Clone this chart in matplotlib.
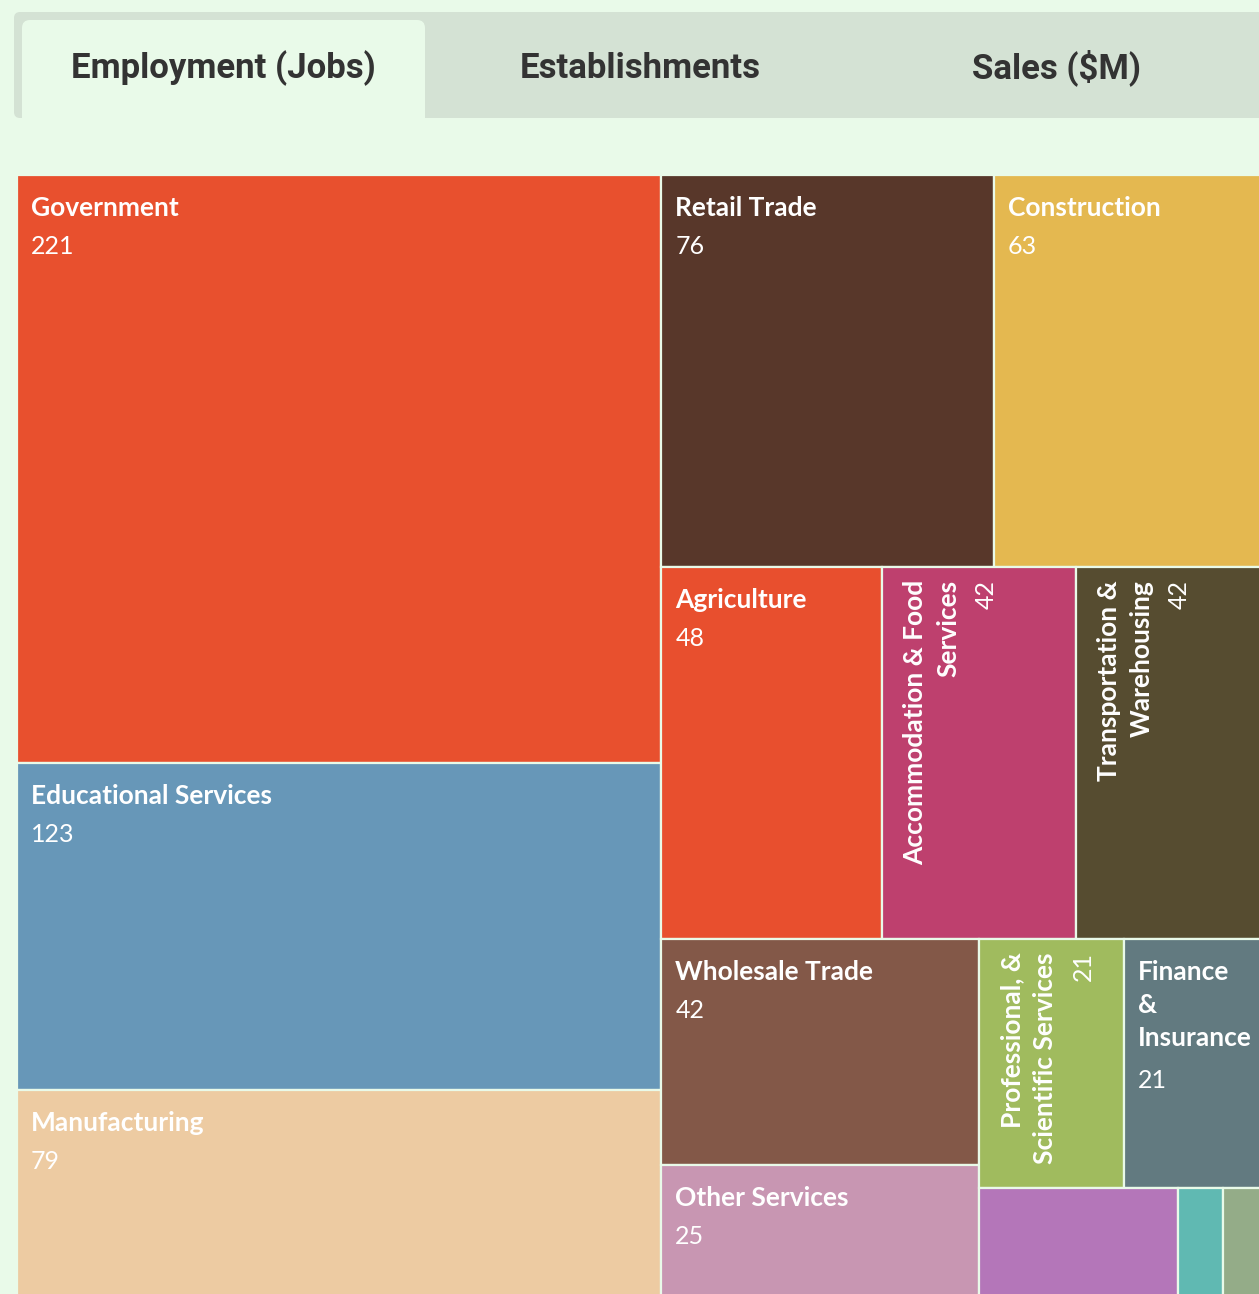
import matplotlib.pyplot as plt
from matplotlib.patches import Rectangle, FancyBboxPatch

# Jobs by industry (the three smallest cells carry no label in the picture)
industries = ["Government", "Educational Services", "Manufacturing", "Retail Trade",
              "Construction", "Agriculture", "Accommodation & Food\nServices",
              "Transportation &\nWarehousing", "Wholesale Trade", "Other Services",
              "Professional, &\nScientific Services", "Finance\n&\nInsurance", "", "", ""]
jobs = [221, 123, 79, 76, 63, 48, 42, 42, 42, 25, 21, 21, 13, 3, 3]
colors = ["#E8502E", "#6797B8", "#EDCBA2", "#58372A", "#E4B850", "#E84F2E", "#BE406E",
          "#564C30", "#835848", "#C896B2", "#A0BB5E", "#627A80", "#B476B9", "#60B9B2", "#94AC88"]
vertical = [False, False, False, False, False, False, True, True,
            False, False, True, False, False, False, False]
tabs = ["Employment (Jobs)", "Establishments", "Sales ($M)"]

W, H = 1259, 1294
BG = "#E9FAE9"
PHI = (1 + 5 ** 0.5) / 2


def squarify(values, x0, y0, x1, y1, ratio=PHI):
    # same idea as d3.treemapSquarify
    rects = []
    total = sum(values)
    i0 = 0
    n = len(values)
    while i0 < n:
        dx, dy = x1 - x0, y1 - y0
        i1 = i0 + 1
        s = values[i0]
        vmin = vmax = s
        alpha = max(dy / dx, dx / dy) / (total * ratio)
        beta = s * s * alpha
        best = max(vmax / beta, beta / vmin)
        while i1 < n:
            v = values[i1]
            s2 = s + v
            mn, mx = min(vmin, v), max(vmax, v)
            beta = s2 * s2 * alpha
            r = max(mx / beta, beta / mn)
            if r > best:
                break
            s, vmin, vmax, best = s2, mn, mx, r
            i1 += 1
        row = values[i0:i1]
        if dx < dy:
            h = dy * s / total
            xx = x0
            for v in row:
                w = dx * v / s
                rects.append((xx, y0, w, h))
                xx += w
            y0 += h
        else:
            w = dx * s / total
            yy = y0
            for v in row:
                h = dy * v / s
                rects.append((x0, yy, w, h))
                yy += h
            x0 += w
        total -= s
        i0 = i1
    return rects


fig = plt.figure(figsize=(W / 100, H / 100), dpi=100, facecolor=BG)
ax = fig.add_axes([0, 0, 1, 1])
ax.set_xlim(0, W)
ax.set_ylim(H, 0)
ax.axis("off")

# tab bar
ax.add_patch(FancyBboxPatch((14, 12), 1400, 106, boxstyle="round,pad=0,rounding_size=6",
                            fc="#D4E2D4", ec="none"))
ax.add_patch(FancyBboxPatch((22, 20), 403, 120, boxstyle="round,pad=0,rounding_size=8",
                            fc=BG, ec="none"))
ax.add_patch(Rectangle((0, 118), W, 20, fc=BG, ec="none"))
for t, cx in zip(tabs, [223, 640, 1057]):
    ax.text(cx, 68, t, ha="center", va="center", fontsize=25, fontweight="bold",
            color="#333333", family=["Liberation Sans Narrow", "Roboto"])

rects = squarify(jobs, 17, 175, 1269, 1300)
lab_font = ["Lato", "DejaVu Sans"]
for (x, y, w, h), name, val, c, vert in zip(rects, industries, jobs, colors, vertical):
    ax.add_patch(Rectangle((x, y), w, h, fc=c, ec=BG, lw=1.6))
    if not name:
        continue
    nl = name.count("\n") + 1
    if vert:
        ax.text(x + 21, y + 13, name, rotation=90, rotation_mode="anchor", ha="right",
                va="top", multialignment="right", fontsize=19, fontweight="bold",
                color="white", family=lab_font, linespacing=1.45)
        ax.text(x + 21 + nl * 34 + 3, y + 13, str(val), rotation=90, rotation_mode="anchor",
                ha="right", va="top", fontsize=18, color="white", family=lab_font)
    else:
        ax.text(x + 14, y + 21, name, ha="left", va="top", fontsize=19, fontweight="bold",
                color="white", family=lab_font, linespacing=1.45)
        ax.text(x + 14, y + 21 + nl * 35 + 4, str(val), ha="left", va="top", fontsize=18,
                color="white", family=lab_font)

fig.savefig("out.png", dpi=100, facecolor=BG)
